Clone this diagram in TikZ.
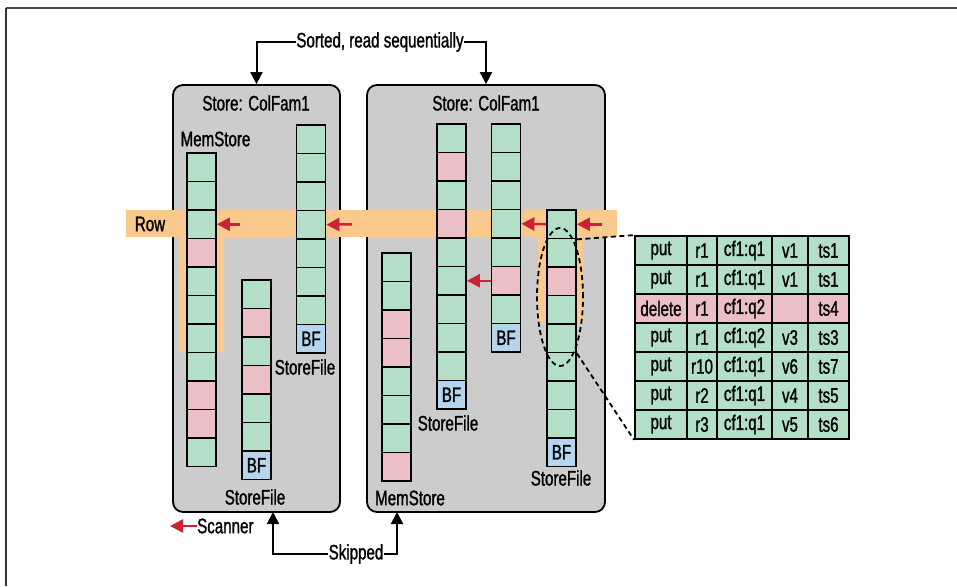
\documentclass[tikz,border=0pt]{standalone}
\usepackage{fontspec}
\setmainfont{Liberation Sans}[FakeStretch=0.72,FakeBold=1.2]
\usepackage{tikz}
\usetikzlibrary{arrows.meta,shapes.geometric}
\definecolor{cg}{HTML}{B3DFC6}
\definecolor{cp}{HTML}{EBBFC3}
\definecolor{cb}{HTML}{B3D6EE}
\definecolor{band}{HTML}{FBC98E}
\definecolor{scan}{HTML}{CC2233}
\newcommand{\labfont}{\fontsize{21}{23}\selectfont}

\tikzset{
  cell/.style={draw=black, line width=1.8pt, minimum width=29pt, minimum height=28.5pt, inner sep=0pt, font=\labfont},
  tcell/.style={draw=black, line width=1.8pt, minimum height=29pt, inner sep=0pt, font=\labfont},
  store/.style={draw=black, fill=gray!40, line width=1.8pt, rounded corners=10pt, inner sep=0pt},
  lbl/.style={inner sep=0pt, font=\labfont},
  redarrow/.style={draw=scan, line width=2.5pt, -{Triangle[length=13pt,width=13pt]}},
  blackarrow/.style={draw=black, line width=2pt, -{Triangle[length=12pt,width=12pt]}},
  link/.style={draw=black, line width=1.8pt, dash pattern=on 5pt off 3.5pt},
}

\begin{document}
\begin{tikzpicture}[x=1pt,y=-1pt]
\useasboundingbox (0,0) rectangle (957,586);
\draw[gray!60!black, line width=2pt] (6,8) -- (957,8);
\draw[black!80, line width=2pt] (6,8) -- (6,586);

\node[store, minimum width=167pt, minimum height=427pt] (lbox) at (256.5,298.5) {};
\node[store, minimum width=238pt, minimum height=427pt] (rbox) at (486,298.5) {};

\fill[band] (126,210) rectangle (617,237);
\fill[band] (179,210) rectangle (224,352);
\fill[band] (538,210) rectangle (583,323);

% left store
\foreach \c [count=\i] in {cg,cg,cg,cp,cg,cg,cg,cg,cp,cp,cg}
  \node[cell, fill=\c] (lm-\i) at (201.5,{153+(\i-0.5)*28.5}) {};
\foreach \c [count=\i] in {cg,cp,cg,cp,cg,cg}
  \node[cell, fill=\c] (ls1-\i) at (256.5,{280+(\i-0.5)*28.5}) {};
\node[cell, fill=cb] (ls1-7) at (256.5,{280+6.5*28.5}) {BF};
\foreach \c [count=\i] in {cg,cg,cg,cg,cg,cg,cg}
  \node[cell, fill=\c] (ls2-\i) at (311,{125+(\i-0.5)*28.5}) {};
\node[cell, fill=cb] (ls2-8) at (311,{125+7.5*28.5}) {BF};

% right store
\foreach \c [count=\i] in {cg,cg,cp,cp,cg,cg,cg,cp}
  \node[cell, fill=\c] (rm-\i) at (396.5,{253+(\i-0.5)*28.5}) {};
\foreach \c [count=\i] in {cg,cp,cg,cp,cg,cg,cg,cg,cg}
  \node[cell, fill=\c] (rs1-\i) at (451.5,{124+(\i-0.5)*28.5}) {};
\node[cell, fill=cb] (rs1-10) at (451.5,{124+9.5*28.5}) {BF};
\foreach \c [count=\i] in {cg,cg,cg,cg,cg,cp,cg}
  \node[cell, fill=\c] (rs2-\i) at (506,{124+(\i-0.5)*28.5}) {};
\node[cell, fill=cb] (rs2-8) at (506,{124+7.5*28.5}) {BF};
\foreach \c [count=\i] in {cg,cg,cp,cg,cg,cg,cg,cg}
  \node[cell, fill=\c] (rs3-\i) at (561.5,{210+(\i-0.5)*28.5}) {};
\node[cell, fill=cb] (rs3-9) at (561.5,{210+8.5*28.5}) {BF};

% labels
\node[lbl] (lname) at (256,103) {Store: ColFam1};
\node[lbl] (rname) at (486,103) {Store: ColFam1};
\node[lbl] (lmlab) at (215.5,139) {MemStore};
\node[lbl] (ls1lab) at (255,497) {StoreFile};
\node[lbl] (ls2lab) at (305,367) {StoreFile};
\node[lbl] (rmlab) at (410,498) {MemStore};
\node[lbl] (rs1lab) at (448,423) {StoreFile};
\node[lbl] (rs3lab) at (561,478) {StoreFile};
\node[lbl] (row) at (150,224) {Row};

% scanner arrows
\coordinate (t1) at (240,224.25);
\coordinate (t2) at (352,224.25);
\coordinate (t4) at (602,224.25);
\draw[redarrow] (t1) -- (lm-3.east);
\draw[redarrow] (t2) -- (ls2-4.east);
\draw[redarrow] (rs3-1.west) -- (rs2-4.east);
\draw[redarrow] (t4) -- (rs3-1.east);
\draw[redarrow] (rs2-6.west) -- (rs1-6.east);

% legend
\node[lbl, anchor=west] (scanner) at (197,526) {Scanner};
\coordinate (sc) at (170,526);
\draw[redarrow] (scanner.west) -- (sc);

% sorted / skipped
\node[lbl] (sorted) at (380,42) {Sorted, read sequentially};
\draw[blackarrow] (sorted.west) -| (lbox.north);
\draw[blackarrow] (sorted.east) -| (rbox.north);
\node[lbl] (skipped) at (356,554) {Skipped};
\coordinate (skl) at (273,512);
\coordinate (skr) at (397,512);
\draw[blackarrow] (skipped.west) -| (skl);
\draw[blackarrow] (skipped.east) -| (skr);

% zoomed cells
\node[draw=black, ellipse, line width=1.8pt, dash pattern=on 5pt off 3.5pt, minimum width=46pt, minimum height=138pt, inner sep=0pt] (sel) at (560,297) {};

\foreach \op/\rw/\cq/\vl/\ts/\c [count=\r] in {put/r1/cf1:q1/v1/ts1/cg, put/r1/cf1:q1/v1/ts1/cg, delete/r1/cf1:q2//ts4/cp, put/r1/cf1:q2/v3/ts3/cg, put/r10/cf1:q1/v6/ts7/cg, put/r2/cf1:q1/v4/ts5/cg, put/r3/cf1:q1/v5/ts6/cg} {
  \node[tcell, fill=\c, minimum width=52pt] (tab-\r-1) at (661,{236+(\r-0.5)*29}) {\op};
  \node[tcell, fill=\c, minimum width=30pt] (tab-\r-2) at (702,{236+(\r-0.5)*29}) {\rw};
  \node[tcell, fill=\c, minimum width=55pt] (tab-\r-3) at (744.5,{236+(\r-0.5)*29}) {\cq};
  \node[tcell, fill=\c, minimum width=36pt] (tab-\r-4) at (790,{236+(\r-0.5)*29}) {\vl};
  \node[tcell, fill=\c, minimum width=41pt] (tab-\r-5) at (828.5,{236+(\r-0.5)*29}) {\ts};
}
\draw[link] (rs3-1.south east) -- (tab-1-1.north west);
\draw[link] (rs3-5.south east) -- (tab-7-1.south west);
\end{tikzpicture}
\end{document}
